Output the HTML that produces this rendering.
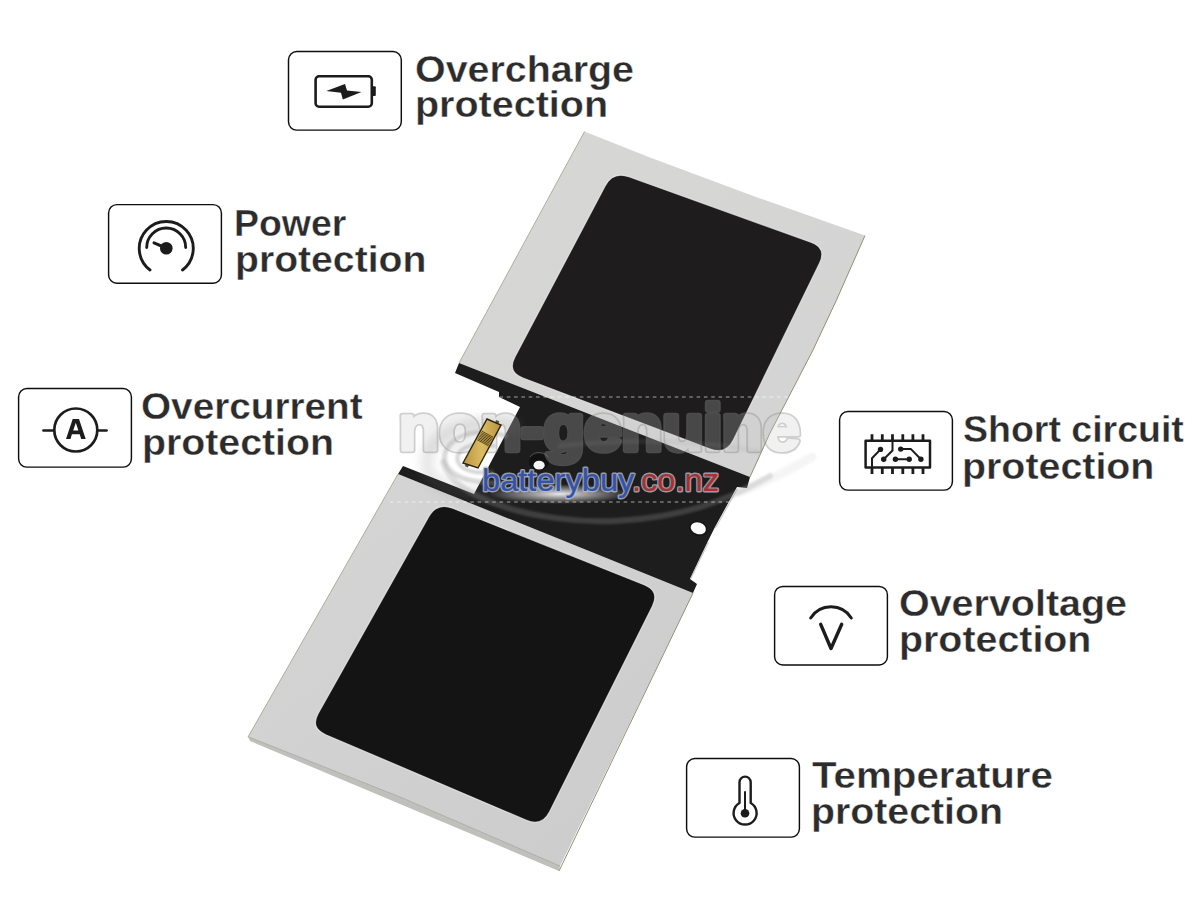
<!DOCTYPE html>
<html><head><meta charset="utf-8">
<style>
html,body{margin:0;padding:0;background:#fff;}
body{width:1200px;height:900px;overflow:hidden;position:relative;}
svg{position:absolute;left:0;top:0;}
.lbl{font-family:"Liberation Sans",sans-serif;font-weight:bold;fill:#2c2c2c;stroke:#fff;stroke-width:0.35px;font-size:37px;}
.wm{font-family:"Liberation Sans",sans-serif;font-weight:bold;font-size:65px;}
.ic{fill:none;stroke:#1c1c1c;stroke-linecap:round;stroke-linejoin:round;}
</style></head>
<body>
<svg width="1200" height="900" viewBox="0 0 1200 900">
<defs>
<linearGradient id="sil1" x1="0" y1="0" x2="1" y2="1">
<stop offset="0" stop-color="#d7d7d6"/><stop offset="1" stop-color="#d3d3d3"/>
</linearGradient>
<linearGradient id="sil2" x1="0" y1="0" x2="1" y2="1">
<stop offset="0" stop-color="#d6d6d6"/><stop offset="1" stop-color="#cbcbcb"/>
</linearGradient>
<radialGradient id="glow"><stop offset="0" stop-color="#fff" stop-opacity="0.9"/><stop offset="0.5" stop-color="#fff" stop-opacity="0.45"/><stop offset="1" stop-color="#fff" stop-opacity="0"/></radialGradient>
<filter id="soft" x="-10%" y="-50%" width="120%" height="200%"><feGaussianBlur stdDeviation="1.2"/></filter>
<filter id="soft4" x="-30%" y="-30%" width="160%" height="160%"><feGaussianBlur stdDeviation="4"/></filter>
</defs>
<!-- upper cell silver -->
<polygon points="584.5,131.5 650,157.5 760,198.4 865,235.5 836.5,300 813,350 770,433 750,477 459,363" fill="url(#sil1)"/>
<polyline points="865,235.5 836.5,300 813,350 770,433 750,477" fill="none" stroke="#948f72" stroke-width="1.0"/>
<line x1="584.5" y1="131.5" x2="459" y2="363" stroke="#a9a794" stroke-width="0.9"/>
<!-- upper pad -->
<path d="M605.1,186.0 Q613.0,171.0 629.0,176.8 L811.0,242.2 Q827.0,248.0 819.5,263.3 L733.5,439.7 Q726.0,455.0 710.1,449.0 L522.9,378.0 Q507.0,372.0 514.9,357.0 Z" fill="#1e1c1c" stroke="rgba(245,245,245,0.7)" stroke-width="1.2"/>
<!-- lower cell silver -->
<polygon points="398,474 693,593 560,866 400,797 248,736.7" fill="url(#sil2)"/>
<polygon points="248,736.7 400,797 560,866 559,871 400,804 250,741" fill="#bfbfbc"/>
<polyline points="248,736.7 400,797 560,866" fill="none" stroke="#a9a9a6" stroke-width="0.9"/>
<line x1="693" y1="593" x2="559" y2="871" stroke="#948f72" stroke-width="1.0"/>
<line x1="398" y1="474" x2="248" y2="737" stroke="#a9a794" stroke-width="0.9"/>
<!-- lower pad -->
<path d="M428.7,516.8 Q437.0,502.0 452.8,508.3 L644.2,584.7 Q660.0,591.0 652.4,606.2 L549.6,811.8 Q542.0,827.0 526.4,820.3 L325.6,734.7 Q310.0,728.0 318.3,713.2 Z" fill="#141414" stroke="rgba(245,245,245,0.7)" stroke-width="1.2"/>
<!-- dark strips + pcb -->
<polygon points="459,363 750,477 747,488 737,487 715,527 708,541 690,579 697,584 693,593 398,474 403,466 474,494 520,407 499,397 499,392 455,373" fill="#1d1d1d"/>
<polyline points="737.5,488.5 715.5,528" fill="none" stroke="rgba(190,190,190,0.8)" stroke-width="1.3"/>
<polyline points="708.5,542 690.5,579" fill="none" stroke="rgba(190,190,190,0.8)" stroke-width="1.3"/>
<!-- holes -->
<ellipse cx="539" cy="462" rx="10" ry="8" fill="#111"/>
<path d="M530,457 A10,8 0 0 1 548,457" fill="none" stroke="rgba(200,200,200,0.35)" stroke-width="0.8"/>
<ellipse cx="539.1" cy="465.2" rx="5.6" ry="4.4" fill="#f6f6f6"/>
<ellipse cx="698.3" cy="528.3" rx="9.5" ry="7.5" transform="rotate(18 698.3 528.3)" fill="#151515"/>
<ellipse cx="698.3" cy="528.3" rx="7.8" ry="5.8" transform="rotate(18 698.3 528.3)" fill="#fafafa"/>
<!-- watermark -->
<mask id="wmask" maskUnits="userSpaceOnUse" x="0" y="0" width="1200" height="900">
<rect x="0" y="0" width="1200" height="900" fill="#fff"/>
<text class="wm" x="398.3" y="449.5" textLength="402" lengthAdjust="spacingAndGlyphs" fill="#000" stroke="#000" stroke-width="3" stroke-linejoin="round">non-genuine</text>
</mask>
<g opacity="0.42" mask="url(#wmask)"><text class="wm" x="398.3" y="449.5" textLength="402" lengthAdjust="spacingAndGlyphs" fill="#8e8e8e" stroke="#8e8e8e" stroke-width="6.5" stroke-linejoin="round">non-genuine</text></g>
<g opacity="0.25"><text class="wm" x="398.3" y="449.5" textLength="402" lengthAdjust="spacingAndGlyphs" fill="#cbcbcb" stroke="#cbcbcb" stroke-width="3" stroke-linejoin="round">non-genuine</text></g>
<!-- swirl -->
<g fill="none" stroke-linecap="round" filter="url(#soft)">
<path d="M443,462 C452,500 540,524 615,521 C680,518 725,502 770,476" stroke="rgba(150,150,150,0.28)" stroke-width="6"/>
<path d="M740,492 C770,480 790,470 812,457" stroke="rgba(160,160,160,0.10)" stroke-width="9"/>
<path d="M560,446 A176,40 0 0 1 760,452" stroke="rgba(150,150,150,0.12)" stroke-width="5"/>
<path d="M505,436 C475,424 440,440 445,462 C450,478 472,483 500,483" stroke="rgba(150,150,150,0.35)" stroke-width="5"/>
<path d="M494,446 C472,440 454,450 458,462 C462,471 477,474 492,472" stroke="rgba(140,140,140,0.35)" stroke-width="4"/>
</g>
<path d="M520,428 C468,412 418,440 428,470 C436,492 472,497 525,492" fill="none" stroke="rgba(120,120,120,0.16)" stroke-width="14" filter="url(#soft4)"/>
<ellipse cx="560" cy="494" rx="70" ry="10" fill="url(#glow)"/>
<!-- connector -->
<linearGradient id="gold" x1="0" y1="0" x2="1" y2="0"><stop offset="0" stop-color="#b8943c"/><stop offset="0.5" stop-color="#dcbc62"/><stop offset="1" stop-color="#b89240"/></linearGradient>
<polygon points="496.3,419.9 499.4,421.5 497.7,424.6 494.6,422.9" fill="#555"/>
<polygon points="466.3,462.9 469.4,464.5 467.8,467.6 464.7,465.9" fill="#555"/>
<polygon points="487,419 501,425 478,468 463,463" fill="url(#gold)" stroke="#2e2410" stroke-width="1.4"/>
<g stroke="#4a3a14" stroke-width="0.9">
<line x1="481.9" y1="431.2" x2="493.0" y2="437.2"/>
<line x1="481.2" y1="432.5" x2="492.3" y2="438.4"/>
<line x1="480.6" y1="433.7" x2="491.7" y2="439.7"/>
<line x1="479.9" y1="434.9" x2="491.0" y2="440.9"/>
<line x1="479.2" y1="436.1" x2="490.3" y2="442.1"/>
<line x1="478.6" y1="437.4" x2="489.7" y2="443.3"/>
<line x1="477.9" y1="438.6" x2="489.0" y2="444.6"/>
<line x1="477.3" y1="439.8" x2="488.4" y2="445.8"/>
</g>
<text x="482" y="491" textLength="237" lengthAdjust="spacingAndGlyphs" style="font-family:'Liberation Sans',sans-serif;font-size:31px;" stroke="rgba(185,190,205,0.8)" stroke-width="2.8" stroke-linejoin="round" fill="none">batterybuy.co.nz</text>
<text x="482" y="491" textLength="237" lengthAdjust="spacingAndGlyphs" style="font-family:'Liberation Sans',sans-serif;font-size:31px;" stroke-width="0.2"><tspan fill="#3352aa" stroke="#3352aa">batterybuy</tspan><tspan fill="#a83030" stroke="#a83030">.co.nz</tspan></text>
<!-- dashed lines -->
<line x1="390" y1="397" x2="800" y2="397" stroke="rgba(255,255,255,0.6)" stroke-width="1.2" stroke-dasharray="3.6,3.7"/>
<line x1="390" y1="502" x2="800" y2="502" stroke="rgba(255,255,255,0.6)" stroke-width="1.2" stroke-dasharray="3.6,3.7"/>
<!-- labels -->
<text class="lbl" x="415.0" y="82.3" textLength="219.0" lengthAdjust="spacingAndGlyphs">Overcharge</text>
<text class="lbl" x="415.0" y="117" textLength="193.0" lengthAdjust="spacingAndGlyphs">protection</text>
<text class="lbl" x="234.0" y="236.2" textLength="112.4" lengthAdjust="spacingAndGlyphs">Power</text>
<text class="lbl" x="235.0" y="271.8" textLength="191.4" lengthAdjust="spacingAndGlyphs">protection</text>
<text class="lbl" x="141.0" y="418.8" textLength="221.6" lengthAdjust="spacingAndGlyphs">Overcurrent</text>
<text class="lbl" x="142.0" y="455" textLength="192.0" lengthAdjust="spacingAndGlyphs">protection</text>
<text class="lbl" x="963.0" y="442.4" textLength="220.8" lengthAdjust="spacingAndGlyphs">Short circuit</text>
<text class="lbl" x="962.0" y="478.8" textLength="192.4" lengthAdjust="spacingAndGlyphs">protection</text>
<text class="lbl" x="899.0" y="615.8" textLength="228.0" lengthAdjust="spacingAndGlyphs">Overvoltage</text>
<text class="lbl" x="899.0" y="652" textLength="192.4" lengthAdjust="spacingAndGlyphs">protection</text>
<text class="lbl" x="812.0" y="787.7" textLength="240.9" lengthAdjust="spacingAndGlyphs">Temperature</text>
<text class="lbl" x="811.0" y="823.6" textLength="192.0" lengthAdjust="spacingAndGlyphs">protection</text>
<!-- boxes -->
<g fill="none" stroke="#0d0d0d" stroke-width="1.45">
<rect x="288.5" y="51.5" width="112.8" height="78.6" rx="8.3"/>
<rect x="108.6" y="204.6" width="112.8" height="78.6" rx="8.3"/>
<rect x="18.6" y="388.5" width="112.8" height="78.6" rx="8.3"/>
<rect x="839.6" y="411.5" width="112.8" height="78.6" rx="8.3"/>
<rect x="774.6" y="586.4" width="112.8" height="78.6" rx="8.3"/>
<rect x="686.6" y="758.5" width="112.8" height="78.6" rx="8.3"/>
</g>
<!-- icon: battery -->
<rect class="ic" stroke-width="2.6" x="315.6" y="76.3" width="56.2" height="30.4" rx="3.5"/>
<rect x="372.5" y="86.3" width="3.3" height="9.7" rx="1" fill="#1c1c1c"/>
<polygon points="326.3,91.1 345,83.9 347,90.5 361.5,92.1 342.8,99.4 341,92.8" fill="#1c1c1c"/>
<!-- icon: gauge -->
<path class="ic" d="M150,270 A27,27 0 1 1 182.5,270" stroke-width="2.9"/>
<path class="ic" d="M146.7,247.5 A19.5,19.5 0 0 1 185.7,247.5" stroke-width="2.9"/>
<circle cx="166.3" cy="248.3" r="6.3" fill="#1c1c1c"/>
<line class="ic" x1="154" y1="242.8" x2="166" y2="248" stroke-width="3"/>
<!-- icon: ammeter -->
<circle class="ic" cx="75.8" cy="430" r="21.5" stroke-width="2.7"/>
<line class="ic" x1="43.5" y1="430.5" x2="53.5" y2="430.5" stroke-width="2.7"/>
<line class="ic" x1="98.5" y1="430.5" x2="106.5" y2="430.5" stroke-width="2.7"/>
<path d="M66,439 L72.7,419 L79,419 L85.7,439 L81.2,439 L79.7,434.2 L71.9,434.2 L70.5,439 Z M73.2,430.6 L78.4,430.6 L75.8,422.8 Z" fill="#1c1c1c" fill-rule="evenodd"/>
<!-- icon: chip -->
<rect class="ic" x="865.6" y="440.7" width="64.4" height="26.8" rx="0" stroke-width="2.5" stroke-linejoin="miter"/>
<g stroke="#1c1c1c" stroke-width="2.8">
<path d="M872,434.2V440.7M882.3,434.2V440.7M892.5,434.2V440.7M902.8,434.2V440.7M912.9,434.2V440.7M923,434.2V440.7"/>
<path d="M872,467.5V474M882.3,467.5V474M892.5,467.5V474M902.8,467.5V474M912.9,467.5V474M923,467.5V474"/>
</g>
<g class="ic" stroke-width="2">
<path d="M872,467.5 V458.3 L880.5,449.4"/>
<path d="M892.5,440.7 V450.5 L883.7,459.3"/>
<path d="M900.7,449.1 H911 L920.9,459.3"/>
<path d="M895.4,459.3 H909.2"/>
</g>
<g fill="#1c1c1c">
<circle cx="880.5" cy="449.4" r="2.7"/><circle cx="883.7" cy="459.3" r="2.7"/>
<circle cx="900.7" cy="449.1" r="2.7"/><circle cx="920.9" cy="459.3" r="2.7"/>
<circle cx="895.4" cy="459.3" r="2.7"/><circle cx="909.2" cy="459.3" r="2.7"/>
</g>
<!-- icon: voltage -->
<path class="ic" d="M810.7,618 A23.9,23.9 0 0 1 851.3,618" stroke-width="3"/>
<path class="ic" d="M820.7,624.3 L831,648.5 L841.7,624.3" stroke-width="3.4"/>
<!-- icon: thermometer -->
<path class="ic" d="M739.5,803 V782.2 A5.6,5.6 0 0 1 750.7,782.2 V803 A11.5,11.5 0 1 1 739.5,803 Z" stroke-width="2.4"/>
<line class="ic" x1="745" y1="792" x2="745" y2="812" stroke-width="2"/>
<circle cx="745" cy="813.3" r="4.3" fill="#1c1c1c"/>
</svg>
</body></html>
